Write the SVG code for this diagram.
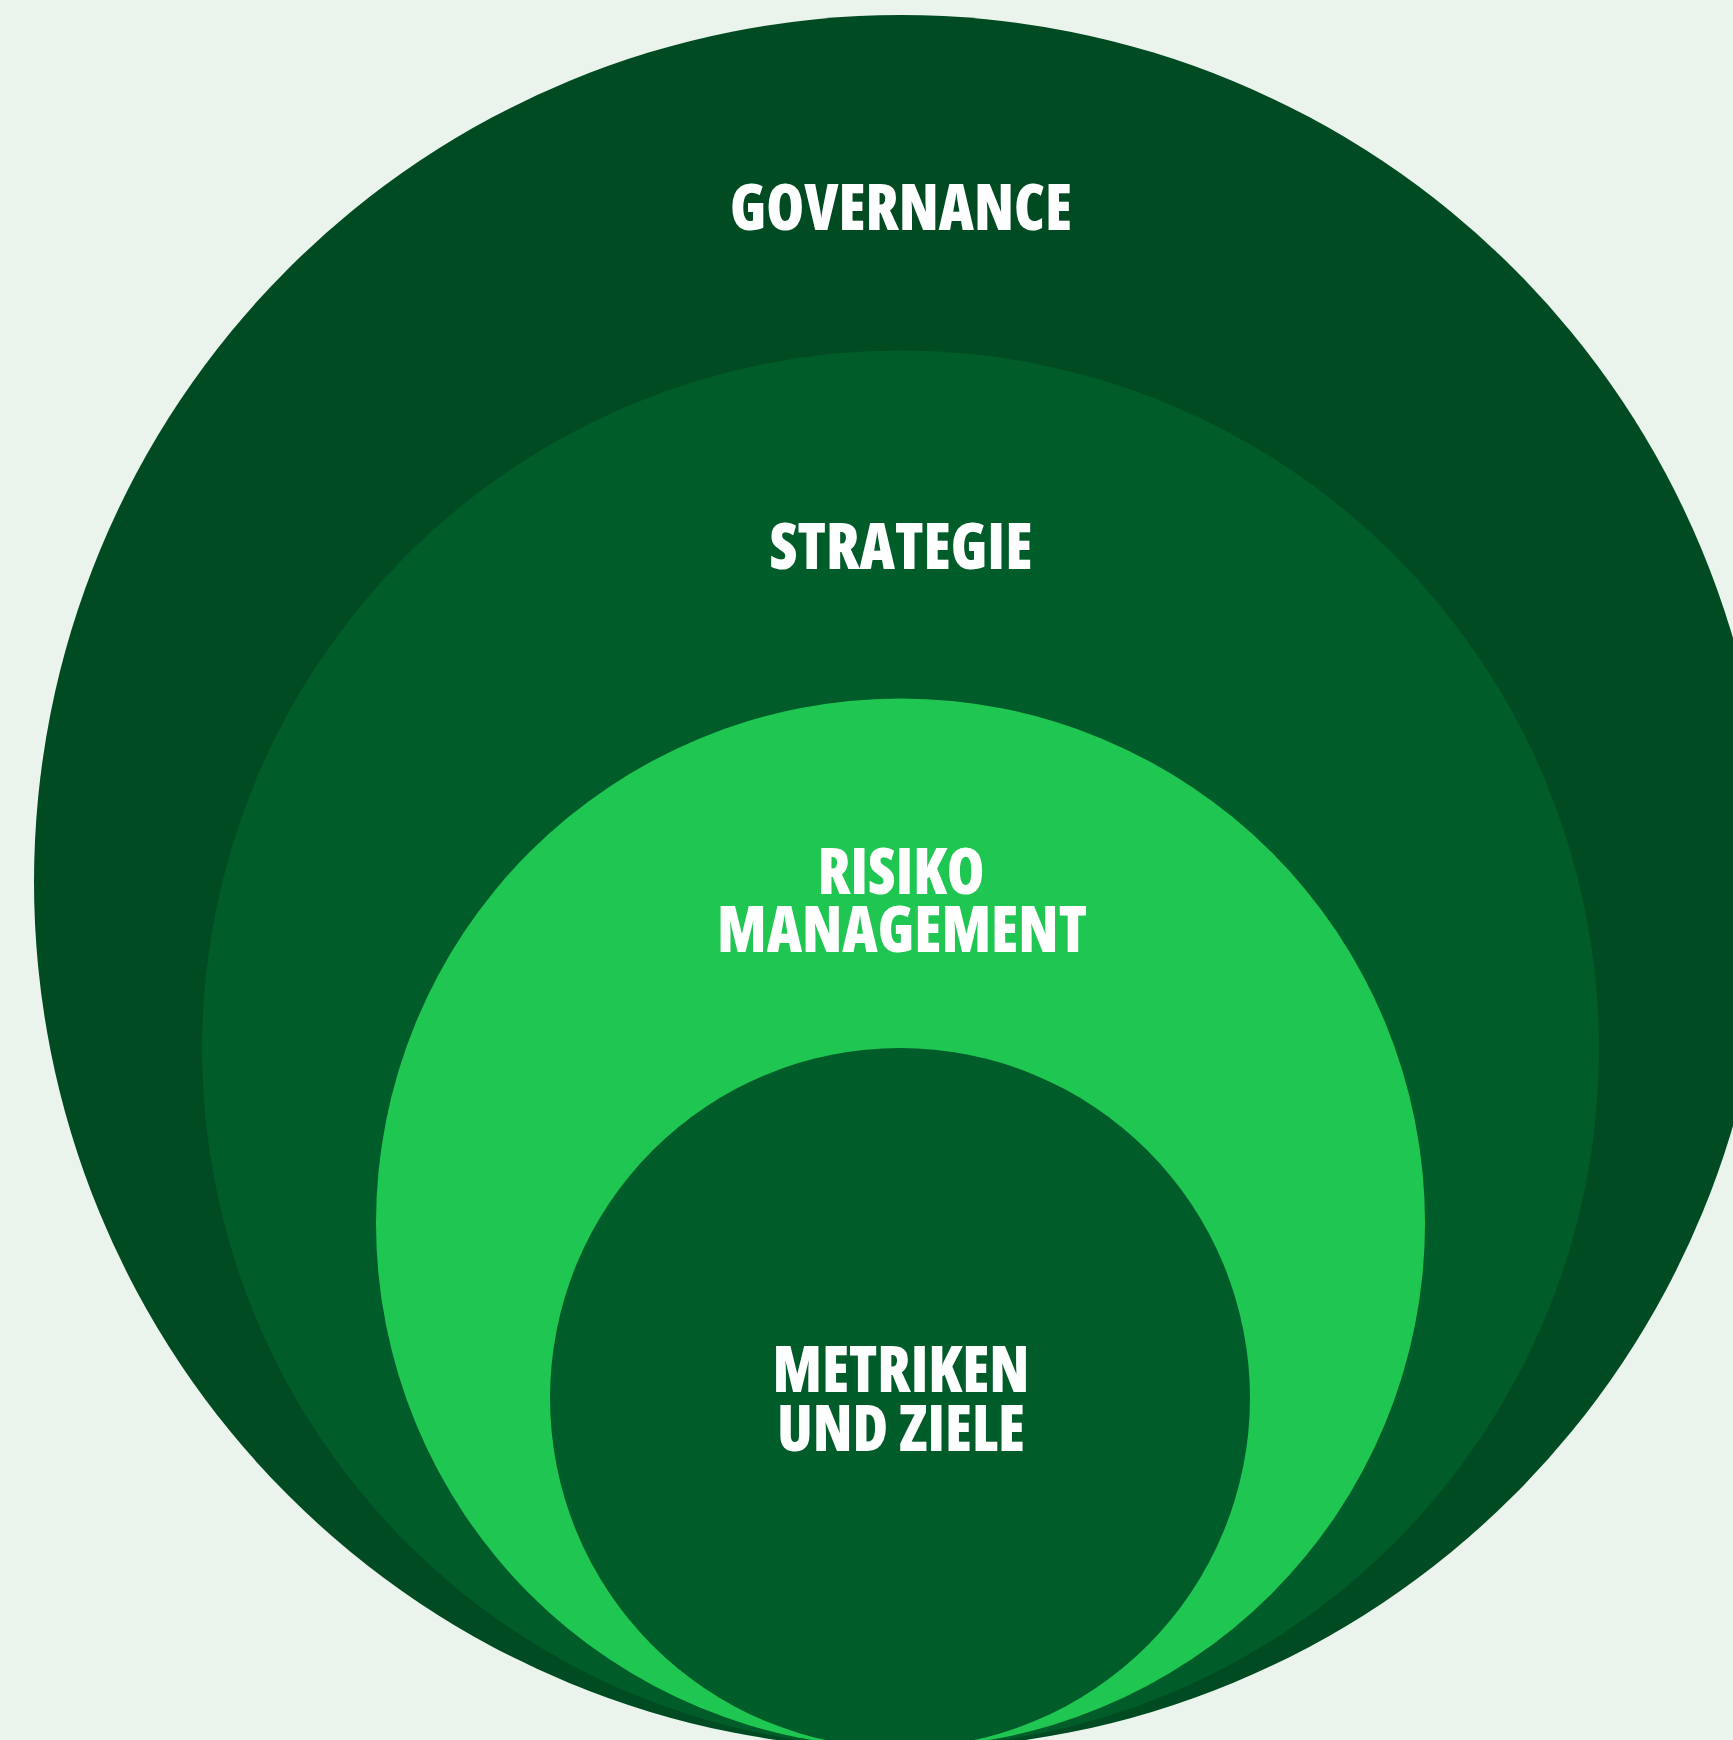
<svg xmlns="http://www.w3.org/2000/svg" width="1733" height="1740" viewBox="0 0 1733 1740">
<style>
.lbl{font-family:"Open Sans","Liberation Sans",sans-serif;font-weight:800;font-size:64px;fill:#ffffff;text-anchor:middle;font-stretch:75%}
</style>
<rect width="1733" height="1740" fill="#EAF4EC"/>
<g id="governance">
<circle cx="901" cy="882" r="867" fill="#004B22"/>
<text class="lbl" x="901" y="230" textLength="342" lengthAdjust="spacingAndGlyphs">GOVERNANCE</text>
</g>
<g id="strategie">
<circle cx="900.5" cy="1049" r="698.5" fill="#005C29"/>
<text class="lbl" x="901" y="569" textLength="263" lengthAdjust="spacingAndGlyphs">STRATEGIE</text>
</g>
<g id="risikomanagement">
<circle cx="900.5" cy="1223" r="524.5" fill="#1FC752"/>
<text class="lbl"><tspan x="901" y="894" textLength="167" lengthAdjust="spacingAndGlyphs">RISIKO</tspan><tspan x="902" y="952" textLength="370" lengthAdjust="spacingAndGlyphs">MANAGEMENT</tspan></text>
</g>
<g id="metriken">
<circle cx="900" cy="1398" r="350" fill="#005C29"/>
<text class="lbl"><tspan x="901" y="1392" textLength="257" lengthAdjust="spacingAndGlyphs">METRIKEN</tspan><tspan x="901" y="1451" textLength="248" lengthAdjust="spacingAndGlyphs">UND ZIELE</tspan></text>
</g>
<g id="connectors"></g>
</svg>
